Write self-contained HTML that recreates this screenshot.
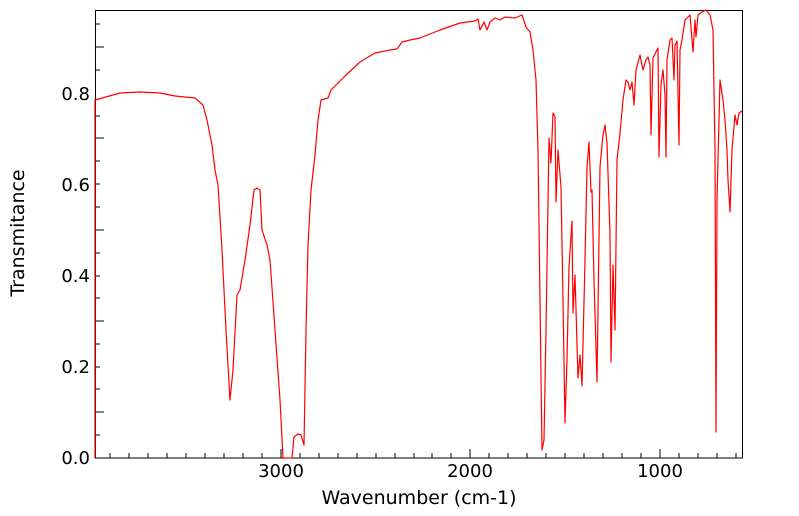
<!DOCTYPE html>
<html><head><meta charset="utf-8"><style>
html,body{margin:0;padding:0;background:#fff;}
svg{display:block;font-family:"DejaVu Sans","Liberation Sans",sans-serif;}
</style></head><body>
<svg width="799" height="516" viewBox="0 0 799 516" xmlns="http://www.w3.org/2000/svg">
<rect x="95.5" y="10.5" width="647" height="447.5" fill="none" stroke="#000" stroke-width="1"/>
<g stroke="#000" stroke-width="1">
<path d="M281,458v-9M470,458v-9M660,458v-9"/>
<path d="M110,458v-5M129,458v-5M148,458v-5M167,458v-5M186,458v-5M205,458v-5M224,458v-5M243,458v-5M262,458v-5M300,458v-5M319,458v-5M338,458v-5M357,458v-5M376,458v-5M395,458v-5M414,458v-5M432,458v-5M451,458v-5M489,458v-5M508,458v-5M527,458v-5M546,458v-5M565,458v-5M584,458v-5M603,458v-5M622,458v-5M641,458v-5M679,458v-5M698,458v-5M717,458v-5M736,458v-5"/>
<path d="M95,412h9M95,321h9M95,230h9M95,138h9M95,47h9"/>
<path d="M95,435h5M95,389h5M95,367h5M95,344h5M95,298h5M95,276h5M95,253h5M95,207h5M95,184h5M95,161h5M95,116h5M95,70h5M95,24h5"/>
</g>
<g font-size="18" fill="#000">
<text x="281" y="477" text-anchor="middle">3000</text>
<text x="470" y="477" text-anchor="middle">2000</text>
<text x="660" y="477" text-anchor="middle">1000</text>
<text x="90" y="464" text-anchor="end">0.0</text>
<text x="90" y="373" text-anchor="end">0.2</text>
<text x="90" y="282" text-anchor="end">0.4</text>
<text x="90" y="191" text-anchor="end">0.6</text>
<text x="90" y="100" text-anchor="end">0.8</text>
</g>
<g font-size="19" fill="#000">
<text x="419" y="504" text-anchor="middle">Wavenumber (cm-1)</text>
<text transform="translate(24,233) rotate(-90)" text-anchor="middle">Transmitance</text>
</g>
<polyline fill="none" stroke="#ff0000" stroke-width="1.2" stroke-linejoin="round" points="
95,458 95,100 120,93 140,92 160,93 175,96 185,97 195,98 203,105 207,120 212,145 215,170 218,185 222,250 226,330 230,400 233,370 237,295 240,290 245,260 250,225 254,190 257,188 260,190 262,230 267,245 270,260 275,330 280,400 283,458 292,458 294,437 298,434 301,435 304,445 306,330 308,245 311,190 315,155 318,120 321,100 328,98 331,90 345,76 360,62 375,53 390,50 397,49 402,42 410,40 420,38 440,30 460,23 475,21 478,19 480,30 484,22 487,30 490,22 495,18 500,20 505,17 515,18 522,15 526,27 530,32 533,50 536,80 538,150 540,300 542,450 544,440 546,330 549,138 551,163 553,113 555,117 556,202 558,150 561,187 563,300 565,423 567,360 569,267 572,221 573,313 575,275 578,378 580,355 582,386 585,260 587,167 589,142 591,192 592,190 594,280 597,382 600,167 603,135 605,125 607,143 610,233 611,362 613,265 615,330 617,160 620,133 623,100 626,80 628,82 630,90 632,82 634,105 636,70 640,55 643,70 646,60 648,57 650,65 651,135 653,58 656,52 658,48 659,157 661,85 663,70 665,95 666,157 667,60 670,40 672,38 674,80 675,45 677,41 679,145 680,50 682,40 685,20 688,17 690,15 693,52 695,20 696,37 698,15 702,12 706,10 710,15 713,30 715,150 716,432 717,200 720,80 723,100 725,120 727,150 728,180 730,212 732,150 735,115 737,125 739,113 742,111"/>
</svg>
</body></html>
